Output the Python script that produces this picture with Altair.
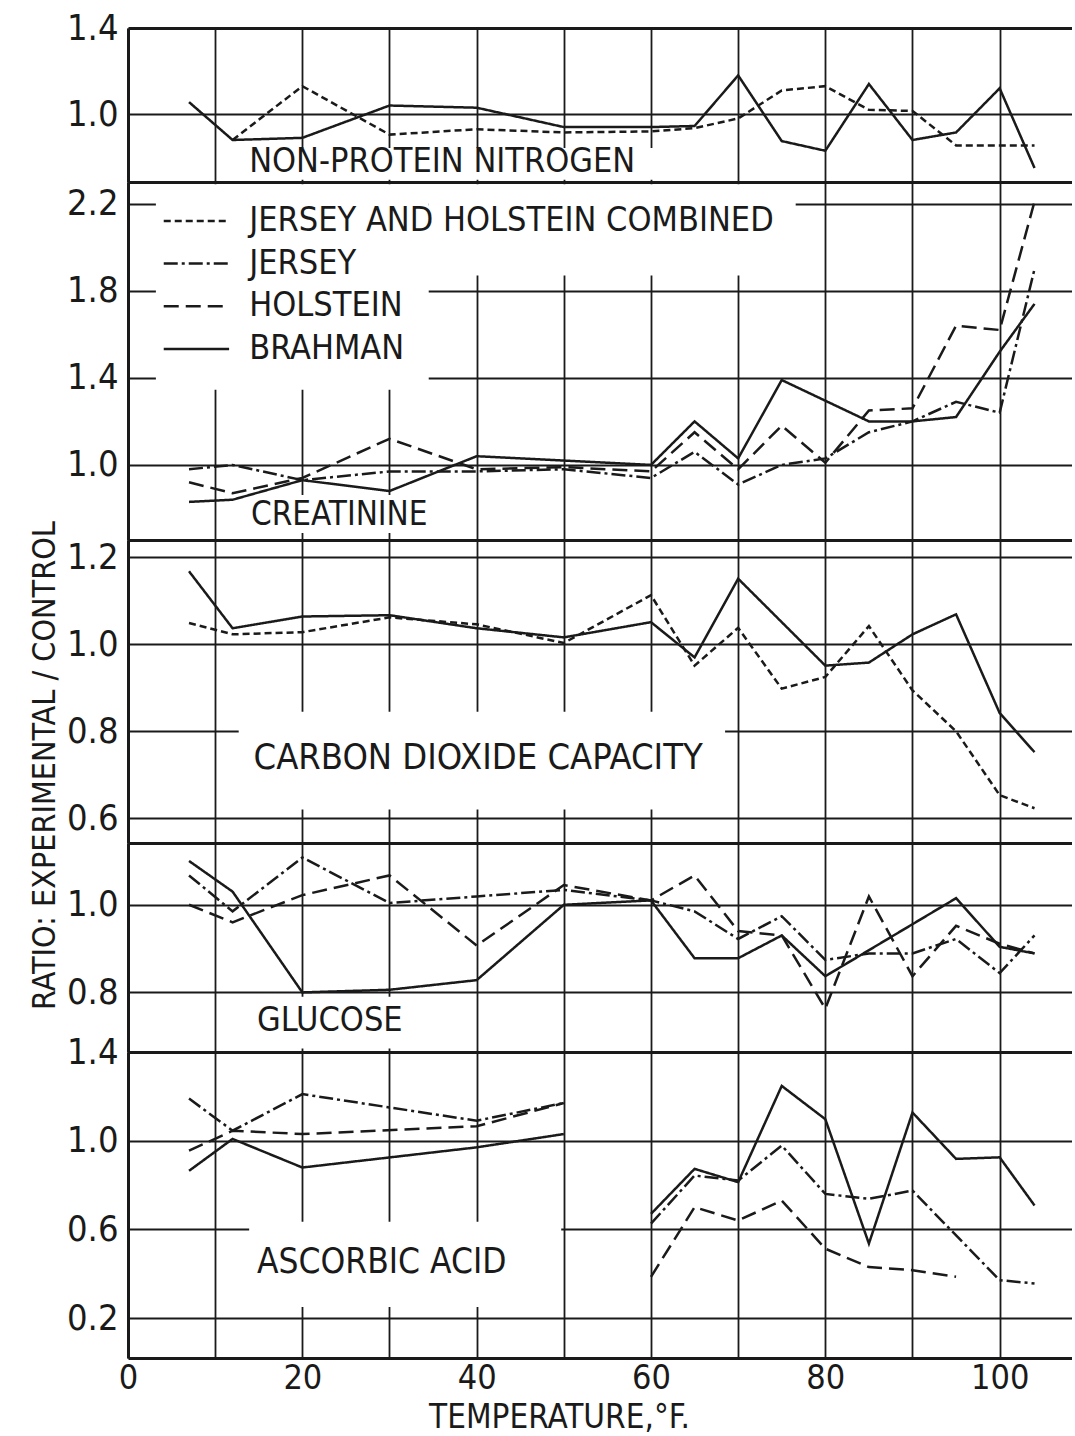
import altair as alt
import pandas as pd

# Temperatures (deg F) at which the ratios are plotted
temps = [7, 12, 20, 30, 40, 50, 60, 65, 70, 75, 80, 85, 90, 95, 100, 104]

COMBINED = "JERSEY AND HOLSTEIN COMBINED"
JERSEY = "JERSEY"
HOLSTEIN = "HOLSTEIN"
BRAHMAN = "BRAHMAN"
series_order = [COMBINED, JERSEY, HOLSTEIN, BRAHMAN]

N = None

# Non-protein nitrogen
npn_combined = [N, 0.88, 1.13, 0.905, 0.93, 0.915, 0.92, 0.935, 0.98, 1.11, 1.13, 1.02, 1.015, 0.855, N, 0.855]
npn_brahman = [1.056, 0.88, 0.89, 1.04, 1.03, 0.94, 0.94, 0.945, 1.18, 0.875, 0.83, 1.14, 0.88, 0.915, 1.12, 0.75]

# Creatinine
cre_jersey = [0.98, 1.0, 0.93, 0.97, 0.97, 0.98, 0.94, 1.06, 0.91, 1.0, 1.03, 1.15, 1.2, 1.29, 1.24, 1.9]
cre_holstein = [0.92, 0.87, 0.94, 1.12, 0.98, 0.99, 0.97, 1.15, 0.98, 1.18, 1.01, 1.25, 1.26, 1.64, 1.62, 2.21]
cre_brahman = [0.83, 0.84, 0.93, 0.88, 1.04, 1.02, 1.0, 1.2, 1.03, 1.39, N, 1.2, 1.2, 1.22, 1.52, 1.74]

# Carbon dioxide capacity
co2_combined = [1.049, 1.023, 1.028, 1.062, 1.046, 1.003, 1.113, 0.951, 1.038, 0.898, 0.925, 1.042, 0.894, 0.8, 0.653, 0.623]
co2_brahman = [1.168, 1.037, 1.064, 1.067, 1.037, 1.016, 1.051, 0.97, 1.151, N, 0.951, 0.958, 1.023, 1.069, 0.842, 0.752]

# Glucose
glu_jersey = [1.067, 0.985, 1.108, 1.004, 1.019, 1.034, 1.01, 0.985, 0.922, 0.974, 0.874, 0.889, 0.889, 0.922, 0.844, 0.93]
glu_holstein = [1.0, 0.96, 1.022, 1.067, 0.907, 1.045, 1.01, 1.067, 0.94, 0.93, 0.763, 1.019, 0.837, 0.952, 0.911, 0.889]
glu_brahman = [1.10, 1.03, 0.80, 0.806, 0.828, 1.0, 1.01, 0.878, 0.878, 0.93, 0.837, N, N, 1.015, 0.904, 0.889]

# Ascorbic acid (cold and hot runs drawn as separate pieces)
asc_jersey = [1.19, 1.045, 1.21, N, 1.09, 1.17, 0.626, 0.843, 0.82, 0.978, 0.76, 0.738, 0.775, N, 0.371, 0.356]
asc_holstein = [0.955, 1.045, 1.03, N, 1.065, 1.17, 0.386, 0.70, 0.64, 0.73, 0.513, 0.43, 0.416, 0.386, N, N]
asc_brahman = [0.864, 1.008, 0.879, N, 0.97, 1.03, 0.67, 0.873, 0.813, 1.247, 1.097, 0.536, 1.127, 0.918, 0.925, 0.708]

INK = "#1a1a1a"
FONT = "DejaVu Sans Condensed, Roboto, sans-serif"
XMAX = 108.3
W = 944
GRID_W = 1.8
dash_scale = alt.Scale(domain=series_order,
                       range=[[7, 4], [14, 4, 3, 4], [15, 7], [1, 0]])


def frame(pairs, split=None):
    rows = []
    for name, vals in pairs:
        for t, v in zip(temps, vals):
            if v is None:
                continue
            run = 0 if (split is None or t < split) else 1
            rows.append({"temp": t, "ratio": v, "series": name, "run": run})
    return pd.DataFrame(rows)


def x_enc(bottom):
    kw = dict(values=list(range(0, 101, 10)), grid=True, ticks=False, tickSize=0,
              domain=True, domainWidth=3, domainColor=INK,
              gridColor=INK, gridWidth=GRID_W, labels=bottom)
    if bottom:
        kw.update(labelExpr="datum.value % 20 == 0 ? datum.label : ''",
                  labelFontSize=34, labelBaseline="alphabetic", labelPadding=30,
                  labelFlush=False, title="TEMPERATURE,°F.", titleFontSize=33,
                  titleX=431, titleY=69, titleBaseline="alphabetic",
                  titleAlign="center", titleAnchor="start")
    else:
        kw.update(title=None)
    return alt.X("temp:Q", scale=alt.Scale(domain=[0, XMAX], nice=False, zero=False),
                 axis=alt.Axis(**kw))


def y_enc(domain, ticks, title=None, top_border=False):
    kw = dict(values=ticks, format=".1f", grid=True, ticks=False, tickSize=0,
              domain=True, domainWidth=3, domainColor=INK, gridColor=INK,
              labelFontSize=36, labelPadding=10)
    if top_border:
        kw["gridWidth"] = {"condition": {"test": f"datum.value >= {domain[1] - 0.001}", "value": 3},
                           "value": GRID_W}
    else:
        kw["gridWidth"] = GRID_W
    if title:
        kw.update(title=title, titleFontSize=32, titleX=-74, titleY=225,
                  titleAngle=270, titleBaseline="alphabetic", titleAlign="center")
    else:
        kw["title"] = None
    return alt.Y("ratio:Q", scale=alt.Scale(domain=domain, nice=False, zero=False),
                 axis=alt.Axis(**kw))


def panel(pairs, domain, ticks, height, label, label_at, label_size, masks,
          split=None, bottom=False, title=None, top_border=False, extra=()):
    X = x_enc(bottom)
    Y = y_enc(domain, ticks, title, top_border)
    mask_df = pd.DataFrame(masks, columns=["temp", "temp2", "ratio", "ratio2"])
    mask = alt.Chart(mask_df).mark_rect(color="white").encode(
        x=X, x2="temp2:Q", y=Y, y2="ratio2:Q")
    lines = alt.Chart(frame(pairs, split)).mark_line(strokeWidth=2.5, color=INK).encode(
        x=X, y=Y,
        strokeDash=alt.StrokeDash("series:N", scale=dash_scale, legend=None),
        detail="run:N")
    lab = alt.Chart(pd.DataFrame([{"temp": label_at[0], "ratio": label_at[1], "txt": label}])).mark_text(
        align="left", baseline="middle", font=FONT, fontSize=label_size, color=INK).encode(
        x=X, y=Y, text="txt:N")
    layers = [mask, *extra, lines, lab]
    return alt.layer(*layers).properties(width=W, height=height)


# Key drawn inside the creatinine panel
key_rows = pd.DataFrame([
    {"temp": 4.1, "temp2": 11.6, "ratio": 2.121 - 0.196 * i, "series": name}
    for i, name in enumerate(series_order)
])
key_lines = alt.Chart(key_rows).mark_rule(strokeWidth=2.5, color=INK).encode(
    x=alt.X("temp:Q"), x2="temp2:Q", y=alt.Y("ratio:Q"),
    strokeDash=alt.StrokeDash("series:N", scale=dash_scale, legend=None))
key_text = alt.Chart(key_rows.assign(tx=13.9)).mark_text(
    align="left", baseline="middle", font=FONT, fontSize=34, color=INK).encode(
    x="tx:Q", y="ratio:Q", text="series:N")

p1 = panel([(COMBINED, npn_combined), (BRAHMAN, npn_brahman)],
           [0.685, 1.4], [1.0, 1.4], 154, "NON-PROTEIN NITROGEN", (13.9, 0.778), 34,
           [(13.5, 62.0, 0.695, 0.843)], top_border=True)
p2 = panel([(JERSEY, cre_jersey), (HOLSTEIN, cre_holstein), (BRAHMAN, cre_brahman)],
           [0.655, 2.30], [1.0, 1.4, 1.8, 2.2], 358, "CREATININE", (14.1, 0.77), 33,
           [(3.2, 34.5, 1.345, 2.29), (34.5, 76.6, 1.87, 2.29), (13.5, 34.5, 0.687, 0.862)],
           extra=(key_lines, key_text))
p3 = panel([(COMBINED, co2_combined), (BRAHMAN, co2_brahman)],
           [0.543, 1.24], [0.6, 0.8, 1.0, 1.2], 303, "CARBON DIOXIDE CAPACITY", (14.4, 0.739), 36,
           [(12.7, 68.5, 0.62, 0.845)], title="RATIO: EXPERIMENTAL / CONTROL")
p4 = panel([(JERSEY, glu_jersey), (HOLSTEIN, glu_holstein), (BRAHMAN, glu_brahman)],
           [0.664, 1.141], [0.8, 1.0], 209, "GLUCOSE", (14.8, 0.735), 34,
           [(14.3, 31.5, 0.672, 0.79)])
p5 = panel([(JERSEY, asc_jersey), (HOLSTEIN, asc_holstein), (BRAHMAN, asc_brahman)],
           [0.02, 1.4], [0.2, 0.6, 1.0, 1.4], 306, "ASCORBIC ACID", (14.8, 0.453), 35,
           [(13.9, 49.7, 0.25, 0.635)], split=55, bottom=True)

chart = alt.vconcat(p1, p2, p3, p4, p5, spacing=0, bounds="flush").resolve_scale(
    x="independent", y="independent").resolve_axis(
    x="independent", y="independent").properties(
    padding={"left": 27, "top": 10, "right": 0, "bottom": 0},
    background="white",
).configure_view(stroke=None).configure_axis(
    labelFont=FONT, titleFont=FONT, labelColor=INK, titleColor=INK,
    titleFontWeight="normal",
)

chart.save("out.html", embed_options={"renderer": "svg", "actions": False})
